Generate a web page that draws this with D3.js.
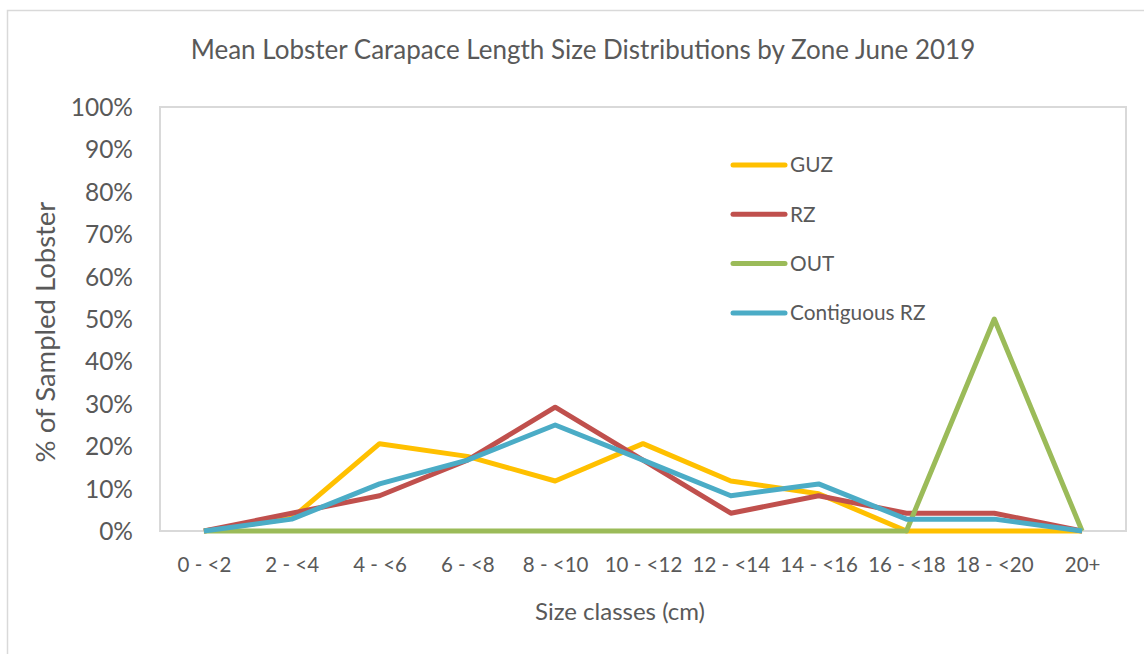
<!DOCTYPE html>
<html>
<head>
<meta charset="utf-8">
<style>
body { margin: 0; background: #fff; }
svg { display: block; }
text { font-family: Lato, "Open Sans", sans-serif; fill: #595959; }
.axis path, .axis line { display: none; }
</style>
</head>
<body>
<svg width="1144" height="654"></svg>
<script src="https://d3js.org/d3.v7.min.js"></script>
<script>

var categories = ["0 - <2", "2 - <4", "4 - <6", "6 - <8", "8 - <10", "10 - <12",
                  "12 - <14", "14 - <16", "16 - <18", "18 - <20", "20+"];

var guz        = [0, 3.0, 20.6, 17.6, 11.8, 20.6, 11.8, 8.8, 0, 0, 0];
var rz         = [0, 4.2, 8.3, 16.7, 29.2, 16.7, 4.2, 8.3, 4.2, 4.2, 0];
var out        = [0, 0, 0, 0, 0, 0, 0, 0, 0, 50, 0];
var contiguous = [0, 2.8, 11.1, 16.7, 25.0, 16.7, 8.3, 11.1, 2.8, 2.8, 0];

var seriesNames = ["GUZ", "RZ", "OUT", "Contiguous RZ"];
var seriesColors = ["#FFC000", "#C0504D", "#9BBB59", "#4BACC6"];
var yTicks = [0, 10, 20, 30, 40, 50, 60, 70, 80, 90, 100];

var series = [guz, rz, out, contiguous].map(function(vals, i) {
  return { name: seriesNames[i], color: seriesColors[i], values: vals };
});

var svg = d3.select("svg");

var margin = { left: 160, top: 107, right: 1126, bottom: 531 };

// outer chart frame
svg.append("rect")
    .attr("x", 7.5).attr("y", 10.5)
    .attr("width", 1160).attr("height", 680)
    .attr("fill", "none")
    .attr("stroke", "#d9d9d9")
    .attr("stroke-width", 1.5);

var x = d3.scalePoint()
    .domain(categories)
    .range([margin.left, margin.right])
    .padding(0.5);

var y = d3.scaleLinear()
    .domain([0, 100])
    .range([margin.bottom, margin.top]);

// plot area border
svg.append("rect")
    .attr("x", margin.left).attr("y", margin.top)
    .attr("width", margin.right - margin.left)
    .attr("height", margin.bottom - margin.top)
    .attr("fill", "none")
    .attr("stroke", "#d9d9d9")
    .attr("stroke-width", 2);

// y axis
svg.append("g")
    .attr("class", "axis")
    .attr("transform", "translate(" + (margin.left - 27) + ",0)")
    .call(d3.axisLeft(y).tickValues(yTicks).tickSize(0).tickPadding(0)
      .tickFormat(function(d) { return d + "%"; }))
  .selectAll("text")
    .style("font-size", "24.5px")
    .attr("dy", "0.35em");

// x axis
svg.append("g")
    .attr("class", "axis")
    .attr("transform", "translate(0," + margin.bottom + ")")
    .call(d3.axisBottom(x).tickSize(0).tickPadding(26))
  .selectAll("text")
    .style("font-size", "20.5px");

svg.selectAll(".axis text").attr("fill", "#595959");

var line = d3.line()
    .x(function(d, i) { return x(categories[i]); })
    .y(function(d) { return y(d); });

svg.append("g").selectAll("path")
    .data(series)
  .enter().append("path")
    .attr("d", function(d) { return line(d.values); })
    .attr("fill", "none")
    .attr("stroke", function(d) { return d.color; })
    .attr("stroke-width", 5)
    .attr("stroke-linejoin", "round");

// legend
var legend = svg.append("g").selectAll("g")
    .data(series)
  .enter().append("g")
    .attr("transform", function(d, i) { return "translate(733," + (165 + i * 49.3) + ")"; });

legend.append("line")
    .attr("x1", 0).attr("x2", 52)
    .attr("stroke", function(d) { return d.color; })
    .attr("stroke-width", 5)
    .attr("stroke-linecap", "round");

legend.append("text")
    .attr("x", 57)
    .attr("dy", "0.35em")
    .style("font-size", "20.8px")
    .text(function(d) { return d.name; });

// titles
svg.append("text")
    .attr("x", 583).attr("y", 59)
    .attr("text-anchor", "middle")
    .style("font-size", "26px")
    .text("Mean Lobster Carapace Length Size Distributions by Zone June 2019");

svg.append("text")
    .attr("x", 620).attr("y", 620)
    .attr("text-anchor", "middle")
    .style("font-size", "24px")
    .text("Size classes (cm)");

svg.append("text")
    .attr("transform", "translate(55,332) rotate(-90)")
    .attr("text-anchor", "middle")
    .style("font-size", "27.5px")
    .text("% of Sampled Lobster");

</script>
</body>
</html>
